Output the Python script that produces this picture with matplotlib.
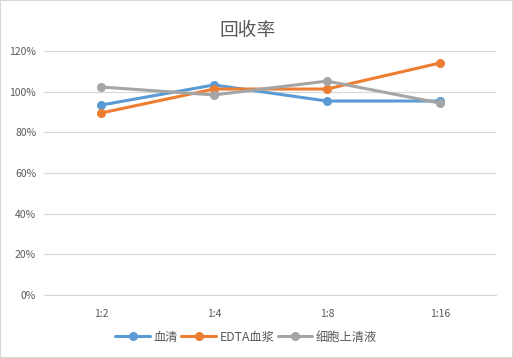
import matplotlib
matplotlib.use("Agg")
import matplotlib.pyplot as plt
from matplotlib.ticker import PercentFormatter

plt.rcParams["font.family"] = ["Noto Sans CJK SC", "DejaVu Sans"]

categories = ["1:2", "1:4", "1:8", "1:16"]
serum = [93.4, 103.3, 95.4, 95.4]
edta_plasma = [89.5, 101.3, 101.3, 114.1]
supernatant = [102.3, 98.4, 105.2, 94.4]

series = [
    ("血清", serum, "#5B9BD5"),
    ("EDTA血浆", edta_plasma, "#ED7D31"),
    ("细胞上清液", supernatant, "#A5A5A5"),
]

fig = plt.figure(figsize=(5.13, 3.58), dpi=100)
fig.patches.append(plt.Rectangle((0, 0), 1, 1, transform=fig.transFigure,
                                 fill=False, edgecolor="#D9D9D9", linewidth=1.5))
ax = fig.add_axes([0.0867, 0.176, 0.881, 0.6815])

x = list(range(len(categories)))
for name, vals, color in series:
    ax.plot(x, vals, color=color, linewidth=2.2, marker="o", markersize=5.5,
            label=name, solid_capstyle="round")

ax.set_xlim(-0.5, len(categories) - 0.5)
ax.set_ylim(0, 120)
ax.set_yticks(range(0, 121, 20))
ax.yaxis.set_major_formatter(PercentFormatter(decimals=0))
ax.set_xticks(x)
ax.set_xticklabels(categories)
ax.grid(axis="y", color="#D9D9D9", linewidth=0.9)
ax.set_axisbelow(True)
for side in ["top", "right", "left"]:
    ax.spines[side].set_visible(False)
ax.spines["bottom"].set_color("#D9D9D9")
ax.tick_params(length=0, labelsize=7.5, colors="#595959", pad=6)
ax.tick_params(axis="x", pad=10)

fig.text(0.482, 0.915, "回收率", ha="center", va="center", fontsize=13.5, color="#595959")
fig.legend(loc="center", bbox_to_anchor=(0.48, 0.058), ncol=3, frameon=False,
           fontsize=8.8, handlelength=2.8, columnspacing=0.3, handletextpad=0.3,
           labelcolor="#595959")

fig.savefig("out.png", dpi=100)
